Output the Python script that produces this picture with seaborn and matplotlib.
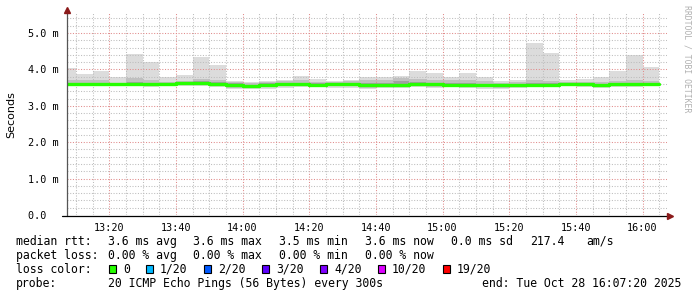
import numpy as np
import pandas as pd
import matplotlib
matplotlib.use("Agg")
import matplotlib.pyplot as plt
import matplotlib.dates as mdates
from matplotlib.patches import Rectangle
import seaborn as sns

# ---------------- data (ms) ----------------
bar_times = pd.date_range("2025-10-28 13:05", periods=36, freq="5min")
rtt_max = [4.03, 3.87, 3.96, 3.80, 4.42, 4.20, 3.80, 3.85, 4.33, 4.12, 3.68, 3.65,
           3.67, 3.72, 3.83, 3.75, 3.68, 3.72, 3.78, 3.80, 3.83, 3.96, 3.89, 3.79,
           3.89, 3.78, 3.67, 3.72, 4.73, 4.45, 3.70, 3.74, 3.80, 3.96, 4.40, 4.07]
rtt_upper = [3.72, 3.70, 3.72, 3.64, 3.76, 3.70, 3.66, 3.68, 3.74, 3.72, 3.66, 3.64,
             3.66, 3.68, 3.70, 3.66, 3.66, 3.68, 3.70, 3.72, 3.76, 3.74, 3.72, 3.70,
             3.72, 3.68, 3.64, 3.66, 3.70, 3.68, 3.66, 3.66, 3.66, 3.68, 3.70, 3.68]
rtt_inner_hi = [3.64, 3.63, 3.64, 3.62, 3.65, 3.63, 3.64, 3.65, 3.67, 3.65, 3.62, 3.58,
                3.62, 3.63, 3.62, 3.63, 3.64, 3.64, 3.63, 3.64, 3.68, 3.66, 3.63, 3.62,
                3.63, 3.61, 3.60, 3.61, 3.62, 3.62, 3.63, 3.62, 3.60, 3.62, 3.63, 3.63]
rtt_median = [3.60, 3.60, 3.60, 3.60, 3.60, 3.59, 3.61, 3.62, 3.62, 3.61, 3.58, 3.54,
              3.58, 3.60, 3.59, 3.58, 3.59, 3.60, 3.58, 3.57, 3.58, 3.61, 3.59, 3.57,
              3.57, 3.58, 3.58, 3.58, 3.57, 3.57, 3.61, 3.59, 3.56, 3.59, 3.60, 3.60]
rtt_inner_lo = [3.58, 3.58, 3.58, 3.58, 3.58, 3.56, 3.59, 3.60, 3.60, 3.59, 3.56, 3.52,
                3.55, 3.58, 3.57, 3.55, 3.57, 3.57, 3.55, 3.55, 3.56, 3.59, 3.57, 3.55,
                3.55, 3.56, 3.56, 3.56, 3.55, 3.55, 3.59, 3.57, 3.54, 3.57, 3.58, 3.58]
rtt_lower = [3.56, 3.56, 3.56, 3.56, 3.56, 3.54, 3.57, 3.58, 3.58, 3.57, 3.50, 3.49,
             3.52, 3.54, 3.55, 3.54, 3.55, 3.55, 3.50, 3.52, 3.54, 3.56, 3.53, 3.56,
             3.52, 3.51, 3.50, 3.53, 3.53, 3.53, 3.57, 3.55, 3.52, 3.55, 3.56, 3.57]
rtt_min = [3.55, 3.54, 3.54, 3.55, 3.54, 3.53, 3.55, 3.55, 3.55, 3.53, 3.47, 3.47,
           3.47, 3.50, 3.53, 3.53, 3.50, 3.50, 3.47, 3.48, 3.50, 3.53, 3.48, 3.55,
           3.48, 3.46, 3.46, 3.50, 3.51, 3.51, 3.55, 3.53, 3.50, 3.53, 3.53, 3.55]

y_ticks = [0, 1, 2, 3, 4, 5]
y_tick_labels = ["0.0  ", "1.0 m", "2.0 m", "3.0 m", "4.0 m", "5.0 m"]

loss_labels = ["0", "1/20", "2/20", "3/20", "4/20", "10/20", "19/20"]
loss_colors = ["#26ff00", "#00b8ff", "#0059ff", "#5e00ff", "#7e00ff", "#dd00ff", "#ff0000"]

# ---------------- figure ----------------
W, H = 697, 297
sns.set_style("white")
plt.rcParams["font.family"] = ["DejaVu Sans Mono", "DejaVu Sans"]
fig = plt.figure(figsize=(W / 100, H / 100), dpi=100)
fig.patch.set_facecolor("white")

L, R, B, T = 67, 667, 215, 13
ax = fig.add_axes([L / W, 1 - B / H, (R - L) / W, (B - T) / H])
ax.set_facecolor("white")

x = mdates.date2num(bar_times.to_pydatetime())
step = 5 / 1440.0

def band(lo, hi, color):
    lo = np.asarray(lo)
    hi = np.asarray(hi)
    ax.bar(x, hi - lo, bottom=lo, width=step, align="edge", color=color,
           linewidth=0, zorder=1)

band(rtt_min, rtt_max, "#dcdcdc")
band(rtt_lower, rtt_upper, "#c0c0c0")
band(rtt_inner_lo, rtt_inner_hi, "#a0a0a0")

# median line (loss 0 => green)
df = pd.DataFrame({"t": np.append(x, x[-1] + step),
                   "rtt": rtt_median + [rtt_median[-1]]})
sns.lineplot(data=df, x="t", y="rtt", ax=ax, color=loss_colors[0], linewidth=2.4,
             drawstyle="steps-post", estimator=None, sort=False, zorder=4)

# limits
t0 = mdates.date2num(pd.Timestamp("2025-10-28 13:07:20").to_pydatetime())
t1 = mdates.date2num(pd.Timestamp("2025-10-28 16:07:20").to_pydatetime())
ax.set_xlim(t0, t1)
ax.set_ylim(0, 5.55)

# grid
ax.xaxis.set_major_locator(mdates.MinuteLocator(byminute=[0, 20, 40]))
ax.xaxis.set_minor_locator(mdates.MinuteLocator(byminute=range(0, 60, 5)))
ax.xaxis.set_major_formatter(mdates.DateFormatter("%H:%M"))
ax.set_yticks(y_ticks)
ax.set_yticklabels(y_tick_labels)
ax.set_yticks(np.arange(0, 5.5, 0.2), minor=True)
ax.grid(which="minor", color="#bdbdbd", linestyle=(0, (1, 1.6)), linewidth=0.75, zorder=2)
ax.grid(which="major", color="#e08a8a", linestyle=(0, (1, 1.6)), linewidth=0.75, zorder=2.5)
ax.set_axisbelow(False)

for s in ax.spines.values():
    s.set_visible(False)

ax.tick_params(axis="both", which="major", labelsize=7.3, colors="#000000",
               length=3, width=0.6, direction="out", pad=3)
ax.tick_params(axis="both", which="minor", length=2, width=0.6, color="#999999",
               direction="out")
ax.tick_params(axis="both", which="major", color="#999999")
for lab in ax.get_xticklabels() + ax.get_yticklabels():
    lab.set_fontfamily("DejaVu Sans Mono")
ax.set_xlabel("")
ax.set_ylabel("")

# axis lines with arrows
def fx(px):
    return px / W

def fy(py):
    return 1 - py / H

fig.add_artist(plt.Line2D([fx(66.5), fx(66.5)], [fy(216), fy(12)], color="#555555",
                          linewidth=0.9, zorder=5))
fig.add_artist(plt.Line2D([fx(62), fx(668)], [fy(215.5), fy(215.5)], color="#000000",
                          linewidth=0.9, zorder=5))
fig.add_artist(plt.Line2D([fx(66.5)], [fy(10)], marker="^", markersize=4,
                          color="#8b1a1a", linestyle="none", zorder=6))
fig.add_artist(plt.Line2D([fx(670)], [fy(215.5)], marker=">", markersize=4,
                          color="#8b1a1a", linestyle="none", zorder=6))

# y label and watermark
fig.text(fx(11), fy(115), "Seconds", rotation=90, ha="center", va="center",
         fontsize=8, family="DejaVu Sans", color="#000000")
fig.text(fx(687), fy(5), "RRDTOOL / TOBI OETIKER", rotation=-90, ha="center",
         va="top", fontsize=5.9, family="DejaVu Sans Mono", color="#b0b0b0")

# legend text
FS = 8.3
mono = "DejaVu Sans Mono"

def t(px, py, s, ha="left"):
    fig.text(fx(px), fy(py), s, ha=ha, va="center", fontsize=FS, family=mono,
             color="#000000")

y1, y2, y3, y4 = 241.5, 255.3, 269.3, 283.5
t(16, y1, "median rtt:")
t(107.5, y1, "3.6 ms avg")
t(193.3, y1, "3.6 ms max")
t(279, y1, "3.5 ms min")
t(365, y1, "3.6 ms now")
t(451, y1, "0.0 ms sd")
t(530, y1, "217.4")
t(586, y1, "am/s")

t(16, y2, "packet loss:")
t(107.5, y2, "0.00 % avg")
t(193.3, y2, "0.00 % max")
t(279, y2, "0.00 % min")
t(365, y2, "0.00 % now")

t(16, y3, "loss color:")
sq_x = [108.5, 145.8, 203.6, 262.0, 320.0, 378.0, 442.5]
txt_x = [123.6, 159.5, 217.8, 276.0, 334.0, 392.0, 456.5]
for sx, tx, lab, col in zip(sq_x, txt_x, loss_labels, loss_colors):
    fig.add_artist(Rectangle((fx(sx), fy(y3 + 4)), 7 / W, 8 / H, transform=fig.transFigure,
                             facecolor=col, edgecolor="#000000", linewidth=0.8))
    t(tx, y3, lab)

t(16, y4, "probe:")
t(107.5, y4, "20 ICMP Echo Pings (56 Bytes) every 300s")
t(681, y4, "end: Tue Oct 28 16:07:20 2025", ha="right")

fig.savefig("out.png", dpi=100, facecolor="white")
